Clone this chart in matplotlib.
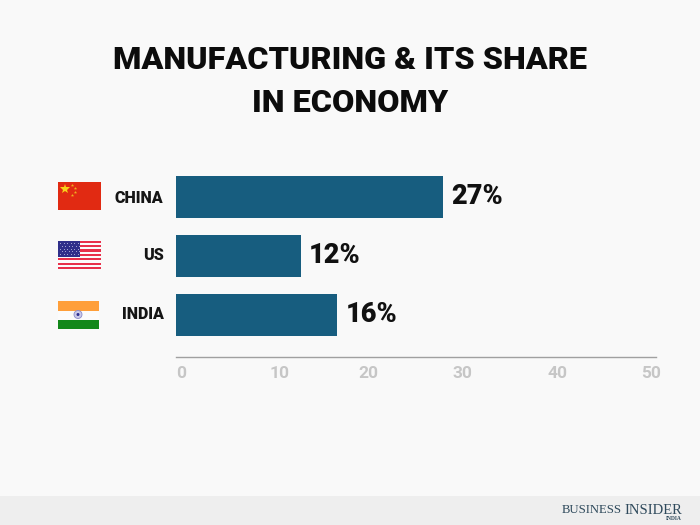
import numpy as np
import matplotlib
matplotlib.use("Agg")
import matplotlib.pyplot as plt
from matplotlib.patches import Rectangle, Circle
from matplotlib.transforms import ScaledTranslation

countries = ["CHINA", "US", "INDIA"]
bar_lengths = [27.8, 13.0, 16.8]
share_labels = ["27%", "12%", "16%"]
x_ticks = [0, 10, 20, 30, 40, 50]
# the labels in the source don't sit exactly under their tick
tick_shift_px = [5, 7.5, 0.5, -1.5, -2.5, -4.5]
country_shift_px = [0, 2, 2]
title = "MANUFACTURING & ITS SHARE\nIN ECONOMY"

BG = "#f9f9f9"
BAR = "#175d7f"
FONT = "Roboto"

fig = plt.figure(figsize=(7, 5.25), dpi=100, facecolor=BG)

# overlay in pixel coordinates for footer and flags
bg = fig.add_axes([0, 0, 1, 1])
bg.set_xlim(0, 700)
bg.set_ylim(525, 0)
bg.axis("off")
bg.add_patch(Rectangle((0, 496), 700, 29, color="#eeeeee", lw=0))


def box(x, y, w, h, color):
    bg.add_patch(Rectangle((x, y), w, h, color=color, lw=0))


# china
box(58, 182, 43, 28, "#e12a12")
bg.plot([65], [189], marker="*", ms=7, color="#f8d21a", mew=0)
for sx, sy in [(72, 185), (75, 188), (75, 192), (72, 195)]:
    bg.plot([sx], [sy], marker="*", ms=2.5, color="#f0b020", mew=0)

# us
for i in range(13):
    box(58, 240.5 + i * 2.2, 43, 2.2, "#e8304a" if i % 2 == 0 else "#fbfbfb")
box(58, 241, 22, 15.5, "#2f2f8a")
for row in range(5):
    for col in range(6):
        bg.plot([60 + col * 3.5 + (row % 2) * 1.5], [243 + row * 2.8], marker=".",
                ms=1.5, color="#b8b8e0", mew=0)

# india
box(58, 301, 41, 9.5, "#ff9f3a")
box(58, 310.5, 41, 9, "#fbfbfb")
box(58, 319.5, 41, 9, "#12871a")
bg.add_patch(Circle((78, 314.5), 4, fc="#c9c9ea", ec="#8a8ac8", lw=0.6))
bg.add_patch(Circle((78, 314.5), 1.5, color="#2f2f8f", lw=0))

ax = fig.add_axes([176 / 700, 1 - 357 / 525, 480 / 700, 189.5 / 525])
ax.patch.set_alpha(0)
y = np.arange(len(countries))
ax.barh(y, bar_lengths, height=42 / 59, color=BAR)
ax.set_xlim(0, 50)
ax.set_ylim(2.712, -0.5)

for i, (v, lab) in enumerate(zip(bar_lengths, share_labels)):
    ax.annotate(lab, (v, i), xytext=(6, 0), textcoords="offset points",
                va="center", ha="left", fontsize=19.5, fontweight="black",
                family=FONT, color="#111111")

ax.set_yticks(y, countries, family=FONT, fontsize=11.5, fontweight="black",
              color="#151515")
ax.tick_params(axis="y", length=0, pad=9)
for lab, dy in zip(ax.get_yticklabels(), country_shift_px):
    lab.set_transform(lab.get_transform() +
                      ScaledTranslation(0, dy / 100, fig.dpi_scale_trans))

ax.set_xticks(x_ticks)
ax.tick_params(axis="x", length=0, pad=6.5, labelsize=12.5, labelcolor="#c6c6c6")
for lab, dx in zip(ax.get_xticklabels(), tick_shift_px):
    lab.set_family(FONT)
    lab.set_fontweight("bold")
    lab.set_transform(lab.get_transform() +
                      ScaledTranslation(dx / 100, 0, fig.dpi_scale_trans))

for s in ["top", "right", "left"]:
    ax.spines[s].set_visible(False)
ax.spines["bottom"].set_color("#a0a0a0")
ax.spines["bottom"].set_linewidth(1)

fig.text(0.5, 1 - 81.5 / 525, title, ha="center", va="center", family=FONT,
         fontsize=23.3, fontweight="black", color="#0c0c0c", linespacing=1.55)

# footer logo
bg.text(562, 510, "BUSINESS", family="Liberation Serif", fontsize=9.2,
        color="#2f4a5c", va="center", ha="left")
bg.text(682, 510, "INSIDER", family="Liberation Serif", fontsize=10.5,
        color="#2f4a5c", va="center", ha="right")
bg.text(682, 518.5, "INDIA", family="Liberation Serif", fontsize=4,
        color="#2f4a5c", va="center", ha="right", fontweight="bold")

fig.savefig("out.png", dpi=100, facecolor=BG)
